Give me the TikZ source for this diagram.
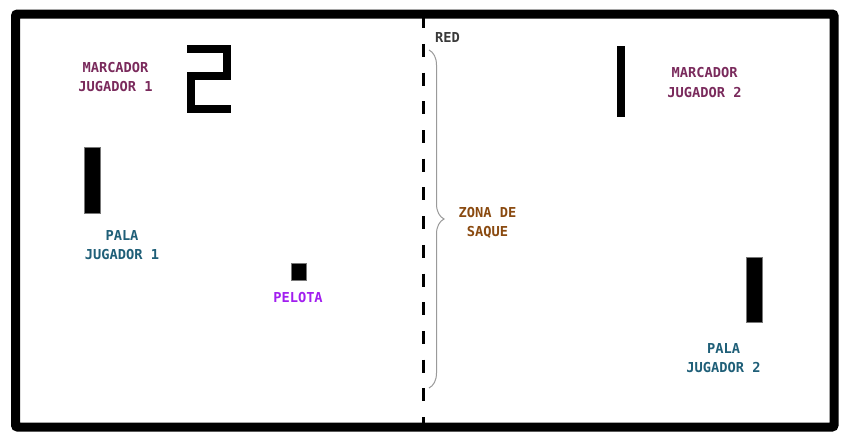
\documentclass[tikz,border=0pt]{standalone}
\usepackage{fontspec}
\newfontfamily\pongfont{DejaVu Sans Mono}
\usetikzlibrary{decorations.pathreplacing}
\definecolor{scorecol}{HTML}{7A2A5C}
\definecolor{padcol}{HTML}{1F5F78}
\definecolor{ballcol}{HTML}{A21EF0}
\definecolor{zonecol}{HTML}{8A4A10}
\definecolor{netcol}{HTML}{3A3A3A}
\definecolor{bracecol}{HTML}{9A9A9A}
\definecolor{edgecol}{HTML}{777777}
\begin{document}
\begin{tikzpicture}[x=1pt,y=-1pt,
  lbl/.style={inner sep=0pt, align=center, font=\pongfont\bfseries\fontsize{13.7}{19}\selectfont},
  paddle/.style={fill=black, draw=edgecol, line width=0.8pt},
  frameline/.style={draw=black, line width=9pt, rounded corners=2pt},
  netline/.style={draw=black, line width=3pt, dash pattern=on 13pt off 15.7pt},
  bracestyle/.style={draw=bracecol, line width=1pt, decorate, decoration={brace, amplitude=15pt}}]
\useasboundingbox (0,0) rectangle (850,442);
\fill[white] (0,0) rectangle (850,442);
% net
\coordinate (nettop) at (423,15.2);
\coordinate (netbot) at (423,427);
\draw[netline] (nettop) -- (netbot);
% frame
\draw[frameline] (15.5,14) rectangle (834,427);
% score 2
\draw[line width=8pt, miter limit=10] (187,49) -- (227,49) -- (227,76) -- (191,76) -- (191,109) -- (231,109);
% score 1
\fill[black] (616.7,46) rectangle (625,116.7);
% paddles and ball
\path[paddle] (84.5,147.5) rectangle (100.5,213);
\path[paddle] (746,257) rectangle (762,322.5);
\path[paddle] (291,263) rectangle (306.5,280.5);
% brace
\coordinate (bracetop) at (429,50);
\coordinate (bracebot) at (429,388);
\draw[bracestyle] (bracetop) -- (bracebot);
% labels
\node[lbl, text=scorecol] (m1) at (115.5,77.2) {MARCADOR\\JUGADOR 1};
\node[lbl, text=scorecol, font=\pongfont\bfseries\fontsize{13.7}{20}\selectfont] (m2) at (704.5,82.8) {MARCADOR\\JUGADOR 2};
\node[lbl, text=padcol] (p1) at (122,245.3) {PALA\\JUGADOR 1};
\node[lbl, text=padcol] (p2) at (723.5,358.3) {PALA\\JUGADOR 2};
\node[lbl, text=ballcol] (ball) at (298,298) {PELOTA};
\node[lbl, text=zonecol] (zone) at (487.5,223) {ZONA DE\\SAQUE};
\node[lbl, text=netcol] (red) at (447.5,38) {RED};
\end{tikzpicture}
\end{document}
